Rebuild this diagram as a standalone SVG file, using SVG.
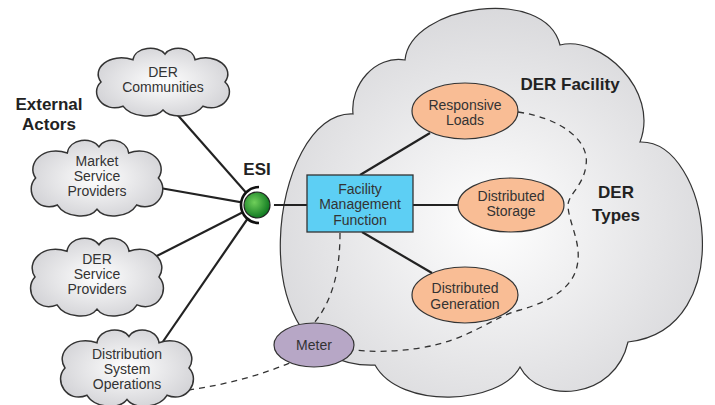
<svg xmlns="http://www.w3.org/2000/svg" xmlns:xlink="http://www.w3.org/1999/xlink" width="715" height="405" viewBox="0 0 715 405">
<style>
.t{font-family:"Liberation Sans",Arial,sans-serif;font-size:14px;fill:#333;text-anchor:middle}
.b{font-family:"Liberation Sans",Arial,sans-serif;font-size:17px;font-weight:bold;fill:#222;text-anchor:middle}
.ln{stroke:#222;stroke-width:2.2;fill:none}
.ds{stroke:#333;stroke-width:1.3;fill:none;stroke-dasharray:6 5}
.ell{fill:#f9bd95;stroke:#333;stroke-width:1.2}
.cl{fill:url(#cg);stroke:#333;stroke-width:1.5}
</style>
<defs>
<radialGradient id="cg" cx="0.5" cy="0.5" r="0.6">
<stop offset="0" stop-color="#ffffff"/>
<stop offset="1" stop-color="#cfcfd3"/>
</radialGradient>
<radialGradient id="bg" cx="0.5" cy="0.55" r="0.6">
<stop offset="0" stop-color="#ffffff"/>
<stop offset="1" stop-color="#d6d6d9"/>
</radialGradient>
<radialGradient id="gg" cx="0.4" cy="0.4" r="0.6">
<stop offset="0" stop-color="#6fcf5a"/>
<stop offset="1" stop-color="#117a22"/>
</radialGradient>
<path id="cloud" vector-effect="non-scaling-stroke" d="M-30,-24 C-28,-38 -5,-40 2,-30 C8,-40 30,-38 32,-24 C54,-32 72,-14 62,0 C74,12 60,34 40,26 C32,38 8,40 0,30 C-8,40 -32,38 -40,26 C-60,34 -74,12 -62,0 C-72,-14 -54,-32 -30,-24 Z"/>
</defs>

<g id="der-facility">
<path d="M405,60 C410,5 545,-15 560,45 C600,35 660,90 640,142 C710,140 740,330 628,342 C615,400 540,405 520,367 C500,405 400,410 375,365 C235,370 270,110 353,114 C350,85 375,55 405,60 Z" fill="url(#bg)" stroke="#333" stroke-width="1.2"/>
<text class="b" x="570" y="90">DER Facility</text>
<text class="b" x="616" y="198">DER</text>
<text class="b" x="616" y="221">Types</text>
</g>

<text class="b" x="49" y="110">External</text>
<text class="b" x="49" y="130">Actors</text>

<g id="connectors">
<line class="ln" x1="175" y1="112" x2="257" y2="205"/>
<line class="ln" x1="160" y1="188" x2="257" y2="205"/>
<line class="ln" x1="143" y1="263" x2="257" y2="205"/>
<line class="ln" x1="162" y1="343" x2="257" y2="205"/>
<line class="ln" x1="257" y1="205" x2="307" y2="205"/>
<line class="ln" x1="360" y1="175" x2="430" y2="133"/>
<line class="ln" x1="413" y1="205" x2="460" y2="205"/>
<line class="ln" x1="362" y1="232" x2="432" y2="273"/>
<path class="ds" d="M340,233 C340,270 333,300 314,323"/>
<path class="ds" d="M188,390 Q245,382 292,362"/>
<path class="ds" d="M518,112 C560,118 590,140 586,165 C584,185 568,195 568,205 C568,220 580,240 578,260 C576,285 555,300 520,310 C490,318 470,340 420,348 C395,352 370,352 355,350"/>
</g>

<g id="der-communities">
<use xlink:href="#cloud" class="cl" transform="translate(163,82) scale(1,0.93)"/>
<text class="t" x="163" y="77">DER</text>
<text class="t" x="163" y="92">Communities</text>
</g>
<g id="market-service-providers">
<use xlink:href="#cloud" class="cl" transform="translate(97,178) scale(0.99,1.04)"/>
<text class="t" x="97" y="166">Market</text>
<text class="t" x="97" y="181">Service</text>
<text class="t" x="97" y="196">Providers</text>
</g>
<g id="der-service-providers">
<use xlink:href="#cloud" class="cl" transform="translate(97,277) scale(1,1.07)"/>
<text class="t" x="97" y="264">DER</text>
<text class="t" x="97" y="279">Service</text>
<text class="t" x="97" y="294">Providers</text>
</g>
<g id="distribution-system-operations">
<use xlink:href="#cloud" class="cl" transform="translate(127,368) scale(1,1.05)"/>
<text class="t" x="127" y="359">Distribution</text>
<text class="t" x="127" y="374">System</text>
<text class="t" x="127" y="389">Operations</text>
</g>

<g id="esi">
<circle cx="257" cy="205" r="17" fill="#fff"/>
<path d="M259,187 A18,18 0 1 0 259,223" fill="none" stroke="#111" stroke-width="2.6"/>
<circle cx="257" cy="205" r="13" fill="url(#gg)" stroke="#222" stroke-width="1.2"/>
<text class="b" x="257" y="175">ESI</text>
</g>

<g id="facility-management-function">
<rect x="307" y="175" width="106" height="57" fill="#5dcff4" stroke="#333" stroke-width="1.3"/>
<text class="t" x="360" y="194">Facility</text>
<text class="t" x="360" y="209">Management</text>
<text class="t" x="360" y="225">Function</text>
</g>

<g id="responsive-loads">
<ellipse class="ell" cx="465" cy="111" rx="53" ry="28"/>
<text class="t" x="465" y="110">Responsive</text>
<text class="t" x="465" y="125">Loads</text>
</g>
<g id="distributed-storage">
<ellipse class="ell" cx="511" cy="205" rx="53" ry="27"/>
<text class="t" x="511" y="201">Distributed</text>
<text class="t" x="511" y="216">Storage</text>
</g>
<g id="distributed-generation">
<ellipse class="ell" cx="465" cy="295" rx="53" ry="28"/>
<text class="t" x="465" y="293">Distributed</text>
<text class="t" x="465" y="309">Generation</text>
</g>
<g id="meter">
<ellipse cx="314" cy="345" rx="40" ry="22" fill="#b7a7c6" stroke="#333" stroke-width="1.2"/>
<text class="t" x="314" y="350">Meter</text>
</g>
</svg>
